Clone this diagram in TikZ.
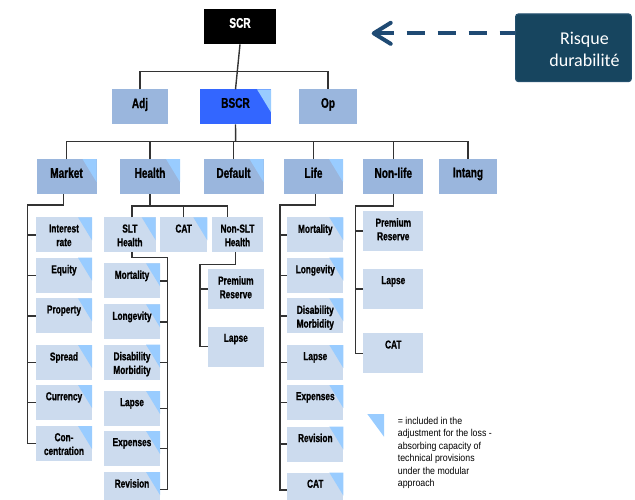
\documentclass[tikz,border=0pt]{standalone}
\usepackage{fontspec}
\usetikzlibrary{arrows.meta}
\newfontfamily\scrfont[FakeStretch=0.72, FakeBold=1]{Liberation Sans Bold}
\newfontfamily\legendfont[FakeStretch=0.88]{Liberation Sans}
\newfontfamily\riskfont{Carlito}
\definecolor{scrLevel}{HTML}{9AB6DD}
\definecolor{scrKid}{HTML}{CCDBEE}
\definecolor{scrTri}{HTML}{99CCFF}
\definecolor{scrBlue}{HTML}{3366FF}
\definecolor{scrLine}{HTML}{333333}
\definecolor{riskFill}{HTML}{17455F}
\definecolor{riskEdge}{HTML}{24506E}
\definecolor{riskArrow}{HTML}{1F4A73}
\tikzset{
  scr tree/.style={draw=scrLine, line width=1.4pt},
  scr box/.style={rectangle, anchor=north west, inner sep=0pt, outer sep=0pt, minimum height=35pt},
  scr level/.style={scr box, fill=scrLevel, minimum width=60pt},
  scr kid/.style={scr box, fill=scrKid, minimum width=56pt},
  scr tri/.style={path picture={\fill[scrTri] ([xshift=-14pt]path picture bounding box.north east)
      -- (path picture bounding box.north east) -- ([yshift=-23pt]path picture bounding box.north east) -- cycle;}},
  big label/.style={anchor=north, inner sep=0pt, yshift=-8.5pt, align=center, font=\scrfont\fontsize{14}{16}\selectfont},
  kid label/.style={anchor=north, inner sep=0pt, yshift=-7pt, align=center, font=\scrfont\fontsize{11.5}{13.7}\selectfont},
  risk box/.style={rectangle, anchor=north west, draw=riskEdge, fill=riskFill, line width=1.2pt, rounded corners=3pt,
      minimum width=115.7pt, minimum height=67.7pt, inner sep=0pt},
  risk label/.style={align=center, text=white, xshift=11pt, yshift=-1.5pt, font=\riskfont\fontsize{18}{21.7}\selectfont},
  risk arrow/.style={draw=riskArrow, line width=4pt, dash pattern=on 18pt off 13pt, {Straight Barb[length=17pt, width=21pt, round]}-},
}
\begin{document}
\begin{tikzpicture}[x=1pt,y=-1pt]
  \useasboundingbox (0,0) rectangle (635,499);
  \clip (0,0) rectangle (635,499);

  % top of the tree
  \node[scr box, fill=black, minimum width=71.4pt, label={[big label, text=white]north:SCR}] (scr) at (204.3,9.3) {};
  \node[scr level, minimum width=56.6pt, label={[big label]north:Adj}] (adj) at (111.7,89.3) {};
  \node[scr box, fill=scrBlue, minimum width=71pt, scr tri, label={[big label]north:BSCR}] (bscr) at (200,89.3) {};
  \node[scr level, minimum width=57.4pt, label={[big label]north:Op}] (op) at (299.3,89.3) {};

  % modules
  \node[scr level, scr tri, label={[big label]north:Market}] (mk) at (36.5,159) {};
  \node[scr level, scr tri, label={[big label]north:Health}] (hl) at (120,159) {};
  \node[scr level, scr tri, label={[big label]north:Default}] (df) at (203.5,159) {};
  \node[scr level, scr tri, minimum width=59pt, label={[big label]north:Life}] (lf) at (284,159) {};
  \node[scr level, label={[big label]north:Non-life}] (nl) at (363.3,159) {};
  \node[scr level, minimum width=57.4pt, label={[big label]north:Intang}] (in) at (439.3,159) {};

  % market
  \foreach \nm/\y/\txt in {mkInt/217.3/{Interest\\rate}, mkEqu/257.7/Equity, mkPro/298.3/Property,
      mkSpr/345/Spread, mkCur/385/Currency, mkCon/426/{Con-\\centration}}
    \node[scr kid, scr tri, label={[kid label]north:\txt}] (\nm) at (36,\y) {};

  % health
  \node[scr kid, scr tri, minimum width=51.7pt, label={[kid label]north:{SLT\\Health}}] (slt) at (104,217.3) {};
  \node[scr kid, scr tri, minimum width=47.3pt, label={[kid label]north:CAT}] (hcat) at (160,217.3) {};
  \node[scr kid, minimum width=51.6pt, label={[kid label]north:{Non-SLT\\Health}}] (nslt) at (211.7,217.3) {};
  \foreach \nm/\y/\txt in {slMor/263.3/Mortality, slLon/304.3/Longevity, slDis/344.7/{Disability\\Morbidity},
      slLap/391/Lapse, slExp/431/Expenses, slRev/472/Revision}
    \node[scr kid, scr tri, label={[kid label]north:\txt}] (\nm) at (104,\y) {};
  \foreach \nm/\y/\txt in {nsPre/269/{Premium\\Reserve}, nsLap/326.7/Lapse}
    \node[scr kid, minimum width=56.3pt, minimum height=40pt, label={[kid label]north:\txt}] (\nm) at (207.7,\y) {};

  % life
  \foreach \nm/\y/\txt in {lfMor/217.3/Mortality, lfLon/257.7/Longevity, lfDis/298.3/{Disability\\Morbidity},
      lfLap/345/Lapse, lfExp/385/Expenses, lfRev/426.5/Revision, lfCat/472.5/CAT}
    \node[scr kid, scr tri, label={[kid label]north:\txt}] (\nm) at (287.3,\y) {};

  % non-life
  \foreach \nm/\y/\txt in {nlPre/211/{Premium\\Reserve}, nlLap/269/Lapse, nlCat/333.3/CAT}
    \node[scr kid, minimum width=60pt, minimum height=40pt, label={[kid label]north:\txt}] (\nm) at (363.3,\y) {};

  % connectors
  \coordinate (jTop) at (235.7,71.7);
  \coordinate (jMod) at (235.7,141.7);
  \draw[scr tree] (scr.south) -- (bscr.north);
  \draw[scr tree] (adj.north) |- (jTop) -| (op.north);
  \draw[scr tree] (bscr.south) -- (jMod);
  \draw[scr tree] (mk.north) |- (jMod) -| (in.north);
  \foreach \n in {hl,df,lf,nl}
    \draw[scr tree] (\n.north) -- (\n.north |- jMod);

  \coordinate (mkJ) at (27.7,205);
  \draw[scr tree] ([xshift=-3pt]mk.south) |- (mkJ) -- (mkJ |- mkCon.west) -- (mkCon.west);
  \foreach \k in {mkInt,mkEqu,mkPro,mkSpr,mkCur}
    \draw[scr tree] (mkJ |- \k.west) -- (\k.west);

  \coordinate (hlJ) at (147.7,206);
  \draw[scr tree] (hl.south) -- (hl.south |- hlJ);
  \draw[scr tree] ([xshift=2pt]slt.north) |- (hlJ) -| ([xshift=-10pt]nslt.north);
  \draw[scr tree] (hcat.north) -- (hcat.north |- hlJ);

  \coordinate (slJ) at (167.3,257.3);
  \draw[scr tree] ([xshift=2pt]slt.south) |- (slJ) -- (slJ |- slRev.east) -- (slRev.east);
  \foreach \k in {slMor,slLon,slDis,slLap,slExp}
    \draw[scr tree] (slJ |- \k.east) -- (\k.east);

  \coordinate (nsJ) at (200,264.3);
  \draw[scr tree] ([xshift=-2pt]nslt.south) |- (nsJ) -- (nsJ |- nsLap.west) -- (nsLap.west);
  \draw[scr tree] (nsJ |- nsPre.west) -- (nsPre.west);

  \coordinate (lfJ) at (280,205);
  \draw[scr tree] ([xshift=2pt]lf.south) |- (lfJ) -- (lfJ |- lfCat.west) -- (lfCat.west);
  \foreach \k in {lfMor,lfLon,lfDis,lfLap,lfExp,lfRev}
    \draw[scr tree] (lfJ |- \k.west) -- (\k.west);

  \coordinate (nlJ) at (355.7,206);
  \draw[scr tree] (nl.south) |- (nlJ) -- (nlJ |- nlCat.west) -- (nlCat.west);
  \foreach \k in {nlPre,nlLap}
    \draw[scr tree] (nlJ |- \k.west) -- (\k.west);

  % legend
  \fill[scrTri] (367.3,414) -- (384,414) -- (384,436.7) -- cycle;
  \node[anchor=north west, inner sep=0pt, align=left, font=\legendfont\fontsize{10}{12.5}\selectfont] (legend) at (397.7,416.7)
    {= included in the\\adjustment for the loss -\\absorbing capacity of\\technical provisions\\under the modular\\approach};

  % sustainability risk
  \node[risk box, label={[risk label]center:{Risque\\durabilité}}] (risk) at (515,13.3) {};
  \coordinate (tip) at (371.7,33.3);
  \draw[risk arrow] (tip) -- (risk.west |- tip);
\end{tikzpicture}
\end{document}
